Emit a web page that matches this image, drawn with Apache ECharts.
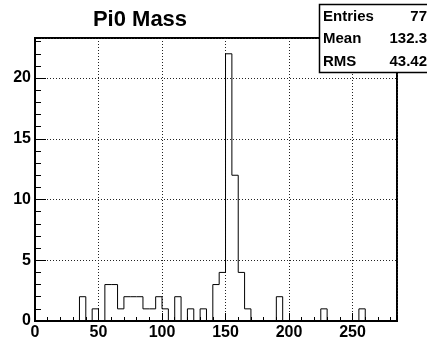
<!DOCTYPE html>
<html><head><meta charset="utf-8">
<script src="https://cdn.jsdelivr.net/npm/echarts@6/dist/echarts.min.js"></script>
<style>html,body{margin:0;padding:0;background:#fff}#c{width:427px;height:341px}</style>
</head><body><div id="c"></div>
<script>
const chartTitle = 'Pi0 Mass';
const binWidth = 5;
const xMin = 0, xMax = 285;
const yMin = 0, yMax = 23.3;
// counts per 5-unit bin starting at 0
const counts = [0,0,0,0,0,0,0,2,0,1, 0,3,3,1,2,2,2,1,1,2, 1,0,2,0,1,0,1,0,3,4, 22,12,4,1,0,0,0,0,2,0, 0,0,0,0,0,1,0,0,0,0, 0,1,0,0,0,0,0];
const statLabels = ['Entries', 'Mean', 'RMS'];
const statValues = ['77', '132.3', '43.42'];
const xMajor = 50, xMinor = 10;
const yMajor = 5, yMinor = 1;

const FONT = 'Liberation Sans, Arial, Helvetica, sans-serif';
const stepData = counts.map((c, i) => [xMin + i * binWidth, c]);
stepData.push([xMin + counts.length * binWidth, counts[counts.length - 1]]);

const chart = echarts.init(document.getElementById('c'), null, {renderer: 'canvas'});
const labelStyle = {color: '#000', fontWeight: 'bold', fontSize: 16, fontFamily: FONT};
const grid = {left: 35, top: 38, width: 362, height: 284, show: true, borderColor: '#000', borderWidth: 2, backgroundColor: 'transparent'};

const statGraphics = [{
  type: 'rect', shape: {x: 319.5, y: 4.5, width: 130, height: 68}, z: 100,
  style: {fill: '#fff', stroke: '#000', lineWidth: 1.5}
}];
statLabels.forEach((l, i) => {
  statGraphics.push({type: 'text', x: 323, y: 16.5 + i * 22.5, z: 101,
    style: {text: l, font: 'bold 15px ' + FONT, fill: '#000', textAlign: 'left', textVerticalAlign: 'middle'}});
  statGraphics.push({type: 'text', x: 427, y: 16.5 + i * 22.5, z: 101,
    style: {text: statValues[i], font: 'bold 15px ' + FONT, fill: '#000', textAlign: 'right', textVerticalAlign: 'middle'}});
});

chart.setOption({
  animation: false,
  backgroundColor: '#fff',
  grid: grid,
  graphic: [{type: 'text', x: 140, y: 20, z: 100,
    style: {text: chartTitle, font: 'bold 22px ' + FONT, fill: '#000', textAlign: 'center', textVerticalAlign: 'middle'}}].concat(statGraphics),
  xAxis: [{
    type: 'value', min: xMin, max: xMax, interval: xMajor, position: 'bottom',
    axisLine: {show: true, lineStyle: {color: '#000', width: 2}},
    axisTick: {show: true, inside: true, length: 8, lineStyle: {color: '#000', width: 1}},
    axisLabel: Object.assign({showMaxLabel: false, margin: 4}, labelStyle),
    splitLine: {show: true, lineStyle: {color: '#222', width: 1, type: [1, 2]}}
  }, {
    type: 'value', min: xMin, max: xMax, interval: xMinor, position: 'bottom',
    axisLine: {show: false},
    axisTick: {show: true, inside: true, length: 4, lineStyle: {color: '#000', width: 1}},
    axisLabel: {show: false}, splitLine: {show: false}
  }],
  yAxis: [{
    type: 'value', min: yMin, max: yMax, interval: yMajor, position: 'left',
    axisLine: {show: true, lineStyle: {color: '#000', width: 2}},
    axisTick: {show: true, inside: true, length: 11, lineStyle: {color: '#000', width: 1}},
    axisLabel: Object.assign({showMaxLabel: false, margin: 4}, labelStyle),
    splitLine: {show: true, lineStyle: {color: '#222', width: 1, type: [1, 2]}}
  }, {
    type: 'value', min: yMin, max: yMax, interval: yMinor, position: 'left',
    axisLine: {show: false},
    axisTick: {show: true, inside: true, length: 6, lineStyle: {color: '#000', width: 1}},
    axisLabel: {show: false}, splitLine: {show: false}
  }],
  series: [{
    type: 'line', step: 'end', data: stepData, xAxisIndex: 0, yAxisIndex: 0,
    symbol: 'none', lineStyle: {color: '#000', width: 1}, z: 5
  }]
});
</script></body></html>
